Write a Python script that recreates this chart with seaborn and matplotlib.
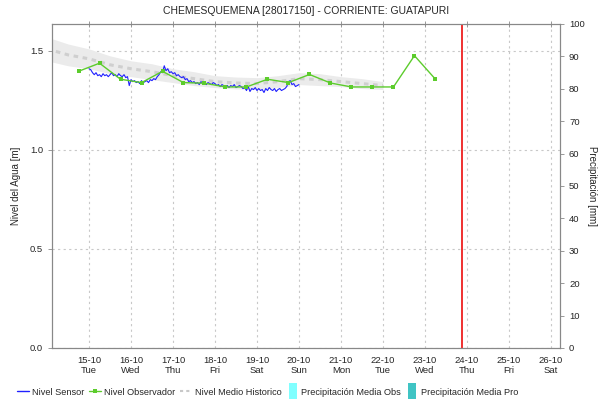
import pandas as pd
import seaborn as sns
import matplotlib
matplotlib.use("Agg")
from matplotlib import pyplot as plt
import matplotlib.dates as mdates
from matplotlib.lines import Line2D

title = "CHEMESQUEMENA [28017150] - CORRIENTE: GUATAPURI"

# Nivel sensor, hourly from 15-10 00:00
sensor_start = "2024-10-15 00:00"
sensor_level = [
    1.41, 1.405, 1.39, 1.38, 1.39, 1.375, 1.38, 1.37, 1.385, 1.375, 1.38, 1.37,
    1.38, 1.39, 1.375, 1.38, 1.37, 1.385, 1.375, 1.37, 1.38, 1.365, 1.37, 1.325,
    1.355, 1.345, 1.35, 1.34, 1.345, 1.335, 1.35, 1.34, 1.345, 1.35, 1.34, 1.355,
    1.35, 1.36, 1.355, 1.37, 1.38, 1.395, 1.39, 1.425, 1.40, 1.41, 1.39, 1.395,
    1.385, 1.39, 1.375, 1.38, 1.37, 1.365, 1.37, 1.355, 1.36, 1.345, 1.35, 1.34,
    1.345, 1.335, 1.34, 1.33, 1.345, 1.335, 1.34, 1.33, 1.34, 1.335, 1.33, 1.34,
    1.335, 1.325, 1.33, 1.32, 1.33, 1.325, 1.32, 1.325, 1.315, 1.325, 1.32, 1.33,
    1.315, 1.32, 1.325, 1.32, 1.31, 1.315, 1.30, 1.32, 1.295, 1.31, 1.305, 1.315,
    1.30, 1.31, 1.30, 1.305, 1.29, 1.31, 1.30, 1.315, 1.305, 1.30, 1.31, 1.295,
    1.305, 1.31, 1.30, 1.305, 1.31, 1.32, 1.345, 1.35, 1.33, 1.335, 1.32, 1.325,
    1.33,
]

# Nivel observador, 06:00 and 18:00 readings from 14-10 18:00
obs_start = "2024-10-14 18:00"
obs_level = [
    1.397, 1.438, 1.357, 1.340, 1.397, 1.340, 1.337, 1.318, 1.318,
    1.357, 1.340, 1.381, 1.338, 1.318, 1.318, 1.318, 1.476, 1.357,
]

# Nivel medio historico, every 12 hours from 14-10 00:00
hist_start = "2024-10-14 00:00"
hist_level = [
    1.51, 1.48, 1.46, 1.43, 1.41, 1.395, 1.375, 1.36, 1.345,
    1.338, 1.335, 1.345, 1.36, 1.355, 1.345, 1.335, 1.325,
]
hist_band = [
    0.06, 0.055, 0.05, 0.045, 0.04, 0.04, 0.035, 0.035, 0.03,
    0.03, 0.03, 0.03, 0.03, 0.03, 0.025, 0.025, 0.02,
]

now_time = "2024-10-23 21:20"

sensor = pd.DataFrame({
    "t": pd.date_range(sensor_start, periods=len(sensor_level), freq="1h"),
    "nivel": sensor_level,
})
obs = pd.DataFrame({
    "t": pd.date_range(obs_start, periods=len(obs_level), freq="12h"),
    "nivel": obs_level,
})
hist = pd.DataFrame({
    "t": pd.date_range(hist_start, periods=len(hist_level), freq="12h"),
    "nivel": hist_level,
    "band": hist_band,
})

sns.set_style("white")
plt.rcParams["font.family"] = ["Liberation Sans", "DejaVu Sans"]

fig = plt.figure(figsize=(6.08, 4.03), dpi=100)
ax = fig.add_axes([0.0855, 0.1365, 0.8355, 0.804])

grey = "#888888"
ax.fill_between(hist.t, hist.nivel - hist.band, hist.nivel + hist.band,
                color="#ebebeb", lw=0, zorder=1)
sns.lineplot(hist, x="t", y="nivel", ax=ax, color="#cfcfcf", lw=2.2,
             linestyle=(0, (1.5, 1.5)), zorder=2)
sns.lineplot(sensor, x="t", y="nivel", ax=ax, color="#2020ff", lw=0.8, zorder=3)
sns.lineplot(obs, x="t", y="nivel", ax=ax, color="#5ccc2c", lw=1,
             marker="s", markersize=3.4, markeredgewidth=0, zorder=4)
ax.axvline(pd.Timestamp(now_time), color="#ee2020", lw=1.3, zorder=5)

ax.set_xlim(pd.Timestamp("2024-10-14 02:50"), pd.Timestamp("2024-10-26 05:10"))
ax.set_ylim(0, 1.636)
ax.set_yticks([0.0, 0.5, 1.0, 1.5])
ax.set_yticklabels(["0.0", "0.5", "1.0", "1.5"])
ax.set_xticks(pd.date_range("2024-10-15", "2024-10-26", freq="D"))
ax.xaxis.set_major_formatter(mdates.DateFormatter("%d-%m\n%a"))
ax.set_xlabel("")
ax.set_ylabel("Nivel del Agua [m]", fontsize=7, labelpad=6)
ax.set_title(title, fontsize=7.5, pad=7)
ax.grid(True, color="#c8c8c8", linestyle=(0, (2, 3)), lw=0.8)
ax.tick_params(axis="both", labelsize=6.8, length=3, width=0.6,
               color=grey, direction="out")
ax.tick_params(axis="x", top=True, direction="inout", length=4)
for s in ax.spines.values():
    s.set_color(grey)
    s.set_linewidth(0.8)

ax2 = ax.twinx()
ax2.set_ylim(0, 100)
ax2.set_yticks(range(0, 101, 10))
ax2.set_ylabel("Precipitación [mm]", fontsize=7, rotation=-90, labelpad=9)
ax2.tick_params(axis="y", labelsize=6.8, length=3, width=0.6, color=grey)
for s in ax2.spines.values():
    s.set_color(grey)
    s.set_linewidth(0.8)

rect = [(-0.5, -1), (0.5, -1), (0.5, 1), (-0.5, 1), (-0.5, -1)]
handles = [
    Line2D([], [], color="#2020ff", lw=1),
    Line2D([], [], color="#5ccc2c", lw=1, marker="s", markersize=2.5,
           markeredgewidth=0),
    Line2D([], [], color="#c8c8c8", lw=1.5, linestyle=(0, (1.5, 1.5))),
    Line2D([], [], color="#80ffff", lw=0, marker=rect, markersize=11,
           markeredgewidth=0),
    Line2D([], [], color="#40c4c4", lw=0, marker=rect, markersize=11,
           markeredgewidth=0),
]
labels = ["Nivel Sensor", "Nivel Observador", "Nivel Medio Historico",
          "Precipitación Media Obs", "Precipitación Media Pro"]
fig.legend(handles, labels, loc="center", bbox_to_anchor=(0.44, 0.027),
           ncol=5, fontsize=6.6, frameon=False, handlelength=1.35,
           handletextpad=0.25, columnspacing=0.55)

fig.savefig("out.png", dpi=100)
